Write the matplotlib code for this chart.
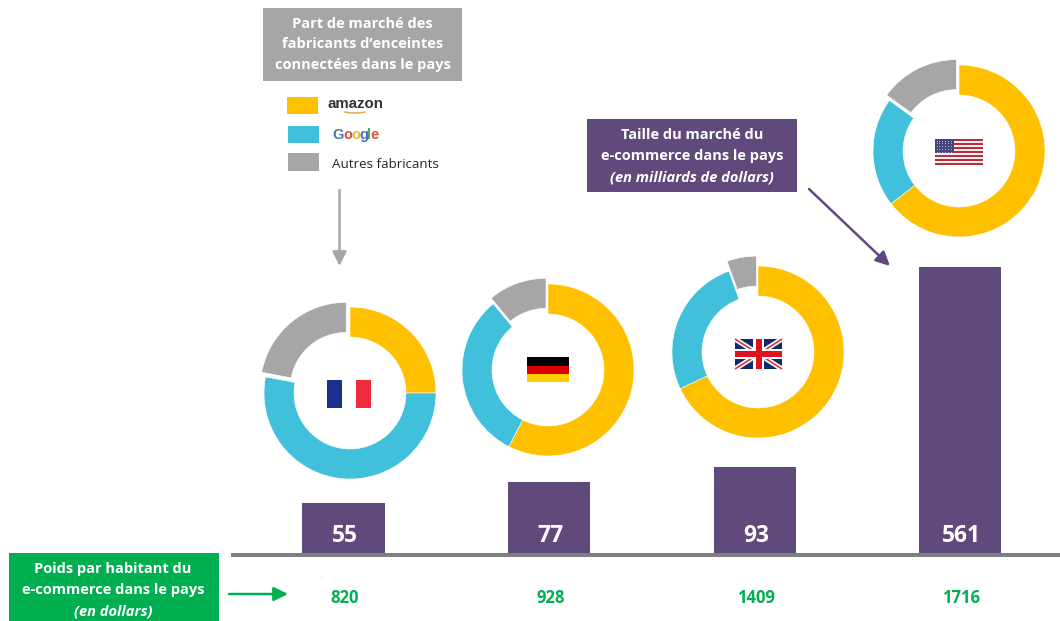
import matplotlib
matplotlib.use("Agg")
import matplotlib.pyplot as plt
from matplotlib.patches import Rectangle, Arc

# Data
countries = ["France", "Allemagne", "Royaume-Uni", "Etats-Unis"]
market_size = [55, 77, 93, 561]
per_capita = [820, 928, 1409, 1716]
# the bars are not to scale in the original, so heights are kept apart from the labels
bar_heights = [50, 71, 86, 286]
amazon_share = [25, 57.5, 68, 64.5]
google_share = [53, 31.5, 26.5, 20.5]
other_share = [22, 11, 5.5, 15]

# Layout in pixels of the picture (y measured from the top)
W, H = 1060, 621
bar_x = [343.5, 549, 755, 960]
donut_x = [350, 548, 758, 959]
donut_y = [393, 370, 352, 151]
other_offset = [6, 6, 10, 6]
donut_r = 86
ring = 30
baseline = 553

AMAZON = "#FFC000"
GOOGLE = "#40C0DA"
GREY = "#A6A6A6"
PURPLE = "#604A7B"
GREEN = "#00B050"

plt.rcParams["font.family"] = ["Open Sans", "DejaVu Sans"]

fig = plt.figure(figsize=(W / 100, H / 100), dpi=100)
ax = fig.add_axes([0, 0, 1, 1])


def Y(y):
    return H - y


def rect(x0, y0, x1, y1, color, z=3):
    ax.add_patch(Rectangle((x0, Y(y1)), x1 - x0, y1 - y0, fc=color, ec="none", zorder=z))


def arrow(x0, y0, x1, y1, color):
    ax.annotate("", xy=(x1, Y(y1)), xytext=(x0, Y(y0)),
                arrowprops=dict(arrowstyle="-|>,head_width=0.42,head_length=0.85",
                                color=color, lw=1.8, shrinkA=0, shrinkB=0))


def box_lines(x, ys, lines, size=10.5):
    for i, (y, line) in enumerate(zip(ys, lines)):
        italic = line.startswith("(")
        ax.text(x, Y(y), line, color="white", fontsize=size, fontweight="bold",
                style="italic" if italic else "normal", ha="center", va="center", zorder=4)


# Donuts
for i in range(4):
    shares = [amazon_share[i], google_share[i], other_share[i]]
    ax.pie(shares, colors=[AMAZON, GOOGLE, GREY], center=(donut_x[i], Y(donut_y[i])),
           radius=donut_r, startangle=90, counterclock=False,
           explode=[0, 0, other_offset[i]],
           wedgeprops=dict(width=ring, edgecolor="white", linewidth=0.4))

# Bars
ax.bar(bar_x, bar_heights, width=82.5, bottom=Y(baseline), color=PURPLE, zorder=3)
for x, v in zip(bar_x, market_size):
    ax.text(x + 1.5, Y(535.5), str(v), color="white", fontsize=16.5, fontweight="bold",
            ha="center", va="center", zorder=4)
for x, v in zip(bar_x, per_capita):
    ax.text(x + 1.5, Y(598), str(v), color=GREEN, fontsize=12, fontweight="bold",
            ha="center", va="center")

# Axis line
rect(231, 553, 1060, 557, "#7F7F7F", z=2)

# Grey box and legend
rect(263, 8, 462, 81, GREY)
box_lines(362.5, [24, 44.5, 65],
          ["Part de marché des", "fabricants d’enceintes", "connectées dans le pays"])
rect(287, 97, 318, 114, AMAZON)
rect(288, 126, 319, 143, GOOGLE)
rect(288, 153, 319, 171, GREY)
ax.text(328, Y(104), "amazon", color="#333333", fontsize=10.8, fontweight="bold",
        ha="left", va="center", family="Liberation Sans")
ax.add_patch(Arc((355, Y(108)), 34, 10, theta1=200, theta2=340, color="#E8A848", lw=1.1))
gx = 332
for letter, c, adv in zip("Google", ["#4A70C8", "#D85040", "#E8B830", "#4A70C8", "#50A860", "#D85040"],
                          [11, 8, 8, 8, 3.6, 7]):
    ax.text(gx, Y(135), letter, color=c, fontsize=10.5, fontweight="bold", ha="left",
            va="center", family="Liberation Sans")
    gx += adv
ax.text(332, Y(164), "Autres fabricants", color="#262626", fontsize=9.6, ha="left", va="center")
arrow(339.5, 190, 339.5, 266, GREY)

# Purple box
rect(587, 119, 797, 192, PURPLE)
box_lines(692, [135, 156, 177],
          ["Taille du marché du", "e-commerce dans le pays", "(en milliards de dollars)"])
arrow(809, 189, 890, 266, PURPLE)

# Green box
rect(9, 553, 219, 621, GREEN)
box_lines(113, [569, 590, 611],
          ["Poids par habitant du", "e-commerce dans le pays", "(en dollars)"])
arrow(229, 594, 288, 594, GREEN)

# France flag
rect(327, 380, 342, 408, "#1A2F8C", z=5)
rect(342, 380, 356, 408, "white", z=5)
rect(356, 380, 371, 408, "#EF2B3C", z=5)

# German flag
rect(527, 357, 569, 365.5, "black", z=5)
rect(527, 365.5, 569, 374, "#DD0000", z=5)
rect(527, 374, 569, 382, "#FFCE00", z=5)

# UK flag
ux0, ux1, uy0, uy1 = 735, 782, 339, 369
rect(ux0, uy0, ux1, uy1, "#0F2A6E", z=5)
ux = [ux0, ux1]
for a, b in [(uy0, uy1), (uy1, uy0)]:
    ax.plot(ux, [Y(a), Y(b)], color="white", lw=3.6, zorder=6, solid_capstyle="butt")
    ax.plot(ux, [Y(a), Y(b)], color="#E8303A", lw=1.2, zorder=6, solid_capstyle="butt")
rect(753, uy0, 764, uy1, "white", z=7)
rect(ux0, 349, ux1, 359, "white", z=7)
rect(755.5, uy0, 761.5, uy1, "#E01020", z=8)
rect(ux0, 351, ux1, 357, "#E01020", z=8)

# US flag
sx0, sx1, sy0, sy1 = 935, 983, 139, 165
stripe_h = (sy1 - sy0) / 13
for k in range(13):
    rect(sx0, sy0 + k * stripe_h, sx1, sy0 + (k + 1) * stripe_h,
         "#B8303F" if k % 2 == 0 else "#F4EEEE", z=5)
rect(sx0, sy0, 954, sy0 + 7 * stripe_h, "#43447A", z=6)
star_x = [937 + 2.9 * k for k in range(6)]
star_y = [141 + 2.9 * k for k in range(5)]
for sx in star_x:
    for sy in star_y:
        rect(sx - 0.5, sy - 0.5, sx + 0.5, sy + 0.5, "#B8B8D0", z=7)

ax.set_xlim(0, W)
ax.set_ylim(0, H)
ax.set_aspect("auto")
ax.axis("off")

fig.savefig("out.png", dpi=100)
